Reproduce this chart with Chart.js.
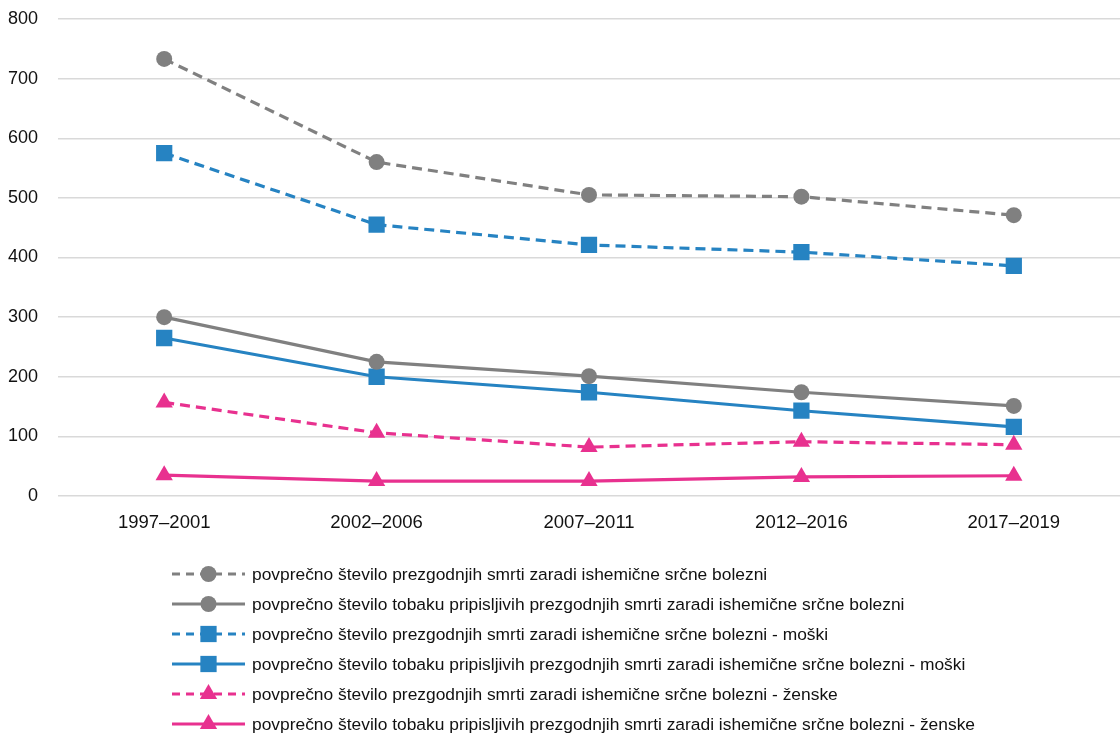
<!DOCTYPE html>
<html>
<head>
<meta charset="utf-8">
<script src="https://cdn.jsdelivr.net/npm/chart.js@4/dist/chart.umd.min.js"></script>
<style>
  html, body { margin: 0; padding: 0; background: #fff; overflow: hidden; }
  canvas { display: block; }
</style>
</head>
<body>
<canvas id="chart" width="1120" height="738"></canvas>
<script>
const periods = ["1997–2001", "2002–2006", "2007–2011", "2012–2016", "2017–2019"];

const allDeaths = [733, 560, 505, 502, 471];
const tobaccoDeaths = [300, 225, 201, 174, 151];
const allDeathsMen = [575, 455, 421, 409, 386];
const tobaccoDeathsMen = [265, 200, 174, 143, 116];
const allDeathsWomen = [157, 106, 82, 91, 86];
const tobaccoDeathsWomen = [35, 25, 25, 32, 34];

const seriesLabels = [
  "povprečno število prezgodnjih smrti zaradi ishemične srčne bolezni",
  "povprečno število tobaku pripisljivih prezgodnjih smrti zaradi ishemične srčne bolezni",
  "povprečno število prezgodnjih smrti zaradi ishemične srčne bolezni - moški",
  "povprečno število tobaku pripisljivih prezgodnjih smrti zaradi ishemične srčne bolezni - moški",
  "povprečno število prezgodnjih smrti zaradi ishemične srčne bolezni - ženske",
  "povprečno število tobaku pripisljivih prezgodnjih smrti zaradi ishemične srčne bolezni - ženske"
];

const GRAY = "#808080";
const BLUE = "#2683c2";
const PINK = "#e8318f";
const FONT = "'Liberation Sans', Arial, sans-serif";
const DASH = [10, 6];

function series(label, data, color, style, radius, dashed) {
  return {
    label,
    data,
    borderColor: color,
    backgroundColor: color,
    borderWidth: 3.2,
    borderDash: dashed ? DASH : [],
    pointStyle: style,
    pointRadius: radius,
    pointHoverRadius: radius,
    pointBorderWidth: 0,
    tension: 0
  };
}

const datasets = [
  series(seriesLabels[0], allDeaths, GRAY, "circle", 8, true),
  series(seriesLabels[1], tobaccoDeaths, GRAY, "circle", 8, false),
  series(seriesLabels[2], allDeathsMen, BLUE, "rect", 11.5, true),
  series(seriesLabels[3], tobaccoDeathsMen, BLUE, "rect", 11.5, false),
  series(seriesLabels[4], allDeathsWomen, PINK, "triangle", 10, true),
  series(seriesLabels[5], tobaccoDeathsWomen, PINK, "triangle", 10, false)
];

// legend drawn by hand: one left-aligned column below the axis
const columnLegend = {
  id: "columnLegend",
  afterDraw(chart) {
    const ctx = chart.ctx;
    const x0 = 172, x1 = 245, textX = 252;
    let y = 574;
    ctx.save();
    chart.data.datasets.forEach(ds => {
      ctx.strokeStyle = ds.borderColor;
      ctx.lineWidth = 3.2;
      ctx.setLineDash(ds.borderDash.length ? [8, 6] : []);
      ctx.beginPath();
      ctx.moveTo(x0, y);
      ctx.lineTo(x1, y);
      ctx.stroke();
      ctx.setLineDash([]);
      ctx.fillStyle = ds.backgroundColor;
      Chart.helpers.drawPoint(ctx, {
        pointStyle: ds.pointStyle,
        radius: ds.pointRadius,
        borderWidth: 0
      }, (x0 + x1) / 2, y);
      ctx.fillStyle = "#111";
      ctx.font = "17.4px " + FONT;
      ctx.textBaseline = "middle";
      ctx.textAlign = "left";
      ctx.fillText(ds.label, textX, y + 1);
      y += 30;
    });
    ctx.restore();
  }
};

new Chart(document.getElementById("chart"), {
  type: "line",
  data: { labels: periods, datasets },
  options: {
    responsive: false,
    animation: false,
    layout: { autoPadding: false, padding: { top: 19, right: -3, left: 0, bottom: 0 } },
    plugins: {
      legend: { display: false },
      tooltip: { enabled: false }
    },
    scales: {
      x: {
        offset: true,
        grid: { display: false, drawTicks: false },
        border: { display: false },
        ticks: { color: "#111", font: { family: FONT, size: 18.5 }, padding: 16, maxRotation: 0 },
        afterFit(scale) {
          scale.height = 242;
          scale.paddingLeft = 0;
          scale.paddingRight = 0;
        }
      },
      y: {
        min: 0,
        max: 800,
        grid: { color: "#d9d9d9", lineWidth: 1.5, drawTicks: false },
        border: { display: false },
        ticks: { stepSize: 100, color: "#111", font: { family: FONT, size: 18 }, padding: 20 },
        afterFit(scale) {
          scale.width = 58;
          scale.paddingTop = 0;
          scale.paddingBottom = 0;
        }
      }
    }
  },
  plugins: [columnLegend]
});
</script>
</body>
</html>
